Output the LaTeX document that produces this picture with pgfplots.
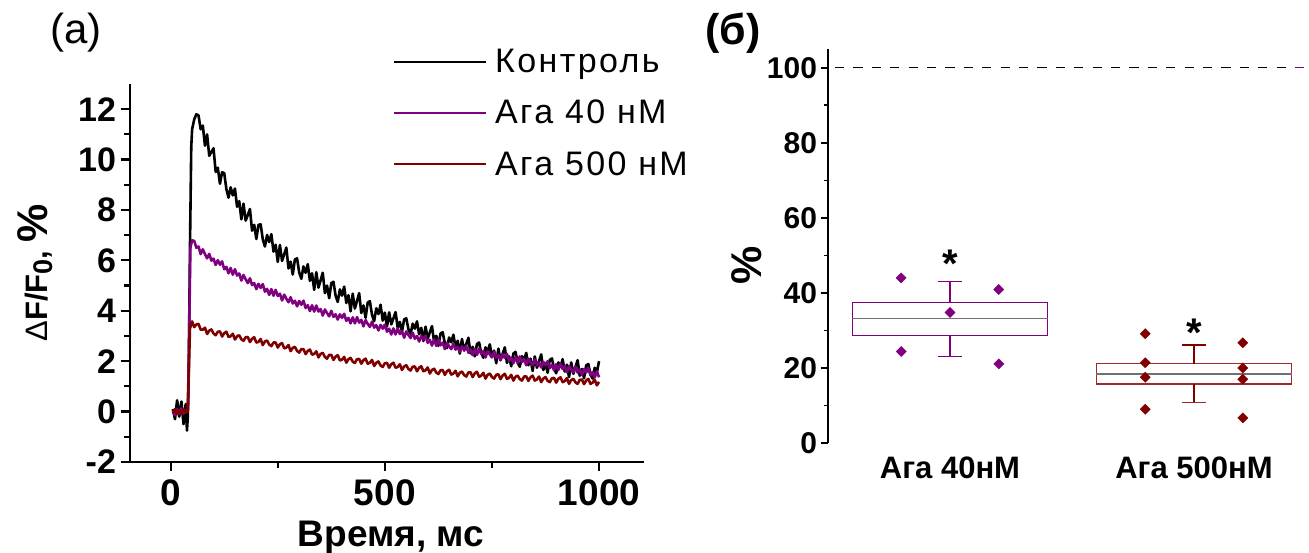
\documentclass[border=0pt]{standalone}
\usepackage{fontspec}
\setmainfont{Liberation Sans}
\usepackage{pgfplots}
\pgfplotsset{compat=1.18}
\definecolor{cpurple}{HTML}{800080}
\definecolor{cred}{HTML}{800000}
\definecolor{cbox}{HTML}{9E2A2A}
\definecolor{cmed}{HTML}{707070}
\begin{document}
\begin{tikzpicture}
\useasboundingbox (0pt,0pt) rectangle (1309pt,553pt);
% ---------------- panel (a) ----------------
\begin{axis}[
  at={(130pt,91pt)}, anchor=south west,
  width=514pt, height=378pt, scale only axis,
  xmin=-95, xmax=1105, ymin=-2, ymax=13,
  axis x line*=bottom, axis y line*=left,
  axis line style={line width=2.4pt, -},
  xtick={0,500,1000}, minor xtick={250,750},
  ytick={-2,0,2,4,6,8,10,12}, minor ytick={-1,1,3,5,7,9,11},
  tick align=outside, major tick length=9.5pt, minor tick length=6pt,
  every tick/.style={line width=2.2pt, black},
  /pgf/number format/assume math mode=true,
  /pgf/number format/1000 sep={},
  yticklabel style={font=\fontsize{34}{34}\selectfont\bfseries, xshift=-1pt},
  xticklabel style={font=\fontsize{37}{37}\selectfont\bfseries, yshift=-5pt},
  legend style={draw=none, fill=none, at={(rel axis cs:0.5117,1.095)}, anchor=north west,
    inner sep=0pt, row sep=24pt, font=\fontsize{34}{34}\selectfont\addfontfeatures{LetterSpace=7},
    nodes={inner sep=1pt}, /tikz/every odd column/.append style={column sep=7pt}},
  legend cell align=left,
  legend image code/.code={\draw[#1, line width=2pt] (0pt,0pt) -- (92pt,0pt);},
]
\addplot[black, line width=2.6pt, line join=round] coordinates {
(5,0.1) (10,-0.3) (15,0.45) (20,-0.2) (25,0.4) (30,-0.5) (35,0.3) (38,-0.75) (40,-0.2) (42,1.5)
(45,6.5) (48,10.5) (50,11.2) (55,11.6) (60,11.8) (65,11.75) (70,11.2) (75,11.35) (80,10.55) (85,11.0)
(90,10.15) (95,10.3) (100,10.45) (105,9.51) (110,9.68) (115,9.04) (120,9.5) (125,9.46) (130,8.83) (135,8.49)
(140,8.9) (145,8.58) (150,8.85) (155,8.13) (160,8.35) (165,7.63) (170,8.25) (175,7.58) (180,7.8) (185,8.04)
(190,7.18) (195,7.41) (200,6.85) (205,7.41) (210,7.43) (215,6.84) (220,6.55) (225,7.01) (230,6.73) (235,7.04)
(240,6.35) (245,6.62) (250,5.94) (255,6.61) (260,5.98) (265,6.24) (270,6.51) (275,5.68) (280,5.95) (285,5.44)
(290,6.04) (295,6.08) (300,5.53) (305,5.27) (310,5.76) (315,5.51) (320,5.85) (325,5.19) (330,5.49) (335,4.83)
(340,5.53) (345,4.92) (350,5.21) (355,5.51) (360,4.7) (365,5.0) (370,4.5) (375,5.1) (380,5.15) (385,4.6)
(390,4.35) (395,4.85) (400,4.6) (405,4.96) (410,4.31) (415,4.62) (420,3.98) (425,4.68) (430,4.09) (435,4.39)
(440,4.7) (445,3.91) (450,4.21) (455,3.72) (460,4.33) (465,4.38) (470,3.84) (475,3.59) (480,4.1) (485,3.87)
(490,4.24) (495,3.61) (500,3.93) (505,3.38) (510,3.94) (515,3.46) (520,3.7) (525,3.95) (530,3.32) (535,3.56)
(540,3.17) (545,3.66) (550,3.7) (555,3.27) (560,3.08) (565,3.49) (570,3.29) (575,3.58) (580,3.07) (585,3.32)
(590,2.8) (595,3.37) (600,2.9) (605,3.15) (610,3.39) (615,2.76) (620,3.01) (625,2.61) (630,3.1) (635,3.15)
(640,2.71) (645,2.52) (650,2.94) (655,2.75) (660,3.05) (665,2.55) (670,2.81) (675,2.3) (680,2.88) (685,2.42)
(690,2.68) (695,2.93) (700,2.31) (705,2.57) (710,2.19) (715,2.68) (720,2.74) (725,2.32) (730,2.14) (735,2.55)
(740,2.37) (745,2.67) (750,2.17) (755,2.42) (760,1.92) (765,2.5) (770,2.04) (775,2.29) (780,2.55) (785,1.93)
(790,2.19) (795,1.8) (800,2.3) (805,2.37) (810,1.95) (815,1.78) (820,2.2) (825,2.03) (830,2.33) (835,1.84)
(840,2.1) (845,1.61) (850,2.19) (855,1.74) (860,2.0) (865,2.27) (870,1.65) (875,1.92) (880,1.54) (885,2.05)
(890,2.11) (895,1.7) (900,1.52) (905,1.95) (910,1.78) (915,2.08) (920,1.59) (925,1.86) (930,1.37) (935,1.95)
(940,1.5) (945,1.77) (950,2.04) (955,1.42) (960,1.69) (965,1.32) (970,1.83) (975,1.89) (980,1.48) (985,1.31)
(990,1.74) (995,1.56) (1000,2.0)
};
\addlegendentry{Контроль}
\addplot[cpurple, line width=2.6pt, line join=round] coordinates {
(5,0.05) (10,-0.15) (15,0.1) (20,-0.1) (25,0.12) (30,-0.08) (35,0.05) (40,0.0) (43,3.0) (46,6.5)
(50,6.8) (55,6.77) (60,6.5) (65,6.55) (70,6.25) (75,6.44) (80,6.25) (85,6.08) (90,6.26) (95,5.99)
(100,6.07) (105,5.82) (110,6.01) (115,5.83) (120,5.96) (125,5.65) (130,5.74) (135,5.49) (140,5.7) (145,5.43)
(150,5.65) (155,5.4) (160,5.48) (165,5.2) (170,5.42) (175,5.25) (180,5.1) (185,5.29) (190,5.02) (195,5.1)
(200,4.86) (205,5.07) (210,4.91) (215,5.06) (220,4.76) (225,4.87) (230,4.63) (235,4.86) (240,4.6) (245,4.83)
(250,4.59) (255,4.68) (260,4.41) (265,4.64) (270,4.48) (275,4.34) (280,4.54) (285,4.29) (290,4.4) (295,4.18)
(300,4.39) (305,4.24) (310,4.4) (315,4.11) (320,4.22) (325,3.99) (330,4.22) (335,3.97) (340,4.21) (345,3.97)
(350,4.07) (355,3.81) (360,4.05) (365,3.91) (370,3.78) (375,4.0) (380,3.76) (385,3.86) (390,3.65) (395,3.86)
(400,3.72) (405,3.88) (410,3.6) (415,3.72) (420,3.5) (425,3.74) (430,3.5) (435,3.75) (440,3.53) (445,3.64)
(450,3.38) (455,3.63) (460,3.48) (465,3.36) (470,3.57) (475,3.33) (480,3.43) (485,3.22) (490,3.44) (495,3.29)
(500,3.45) (505,3.17) (510,3.29) (515,3.06) (520,3.3) (525,3.06) (530,3.3) (535,3.08) (540,3.19) (545,2.93)
(550,3.18) (555,3.04) (560,2.92) (565,3.13) (570,2.89) (575,3.0) (580,2.78) (585,3.0) (590,2.86) (595,3.01)
(600,2.73) (605,2.85) (610,2.62) (615,2.86) (620,2.61) (625,2.86) (630,2.63) (635,2.74) (640,2.48) (645,2.73)
(650,2.59) (655,2.48) (660,2.7) (665,2.46) (670,2.57) (675,2.37) (680,2.59) (685,2.45) (690,2.61) (695,2.34)
(700,2.46) (705,2.24) (710,2.49) (715,2.25) (720,2.5) (725,2.29) (730,2.4) (735,2.15) (740,2.4) (745,2.27)
(750,2.15) (755,2.37) (760,2.14) (765,2.25) (770,2.04) (775,2.27) (780,2.13) (785,2.29) (790,2.01) (795,2.14)
(800,1.92) (805,2.17) (810,1.93) (815,2.19) (820,1.97) (825,2.09) (830,1.84) (835,2.1) (840,1.96) (845,1.85)
(850,2.07) (855,1.84) (860,1.95) (865,1.75) (870,1.97) (875,1.84) (880,2.0) (885,1.73) (890,1.85) (895,1.64)
(900,1.88) (905,1.65) (910,1.9) (915,1.69) (920,1.8) (925,1.56) (930,1.81) (935,1.68) (940,1.56) (945,1.79)
(950,1.55) (955,1.67) (960,1.46) (965,1.69) (970,1.55) (975,1.72) (980,1.44) (985,1.57) (990,1.35) (995,1.6)
(1000,1.36)
};
\addlegendentry{Ага 40 нМ}
\addplot[cred, line width=2.6pt, line join=round] coordinates {
(5,-0.05) (10,0.1) (15,-0.1) (20,0.05) (25,-0.08) (30,0.1) (35,-0.05) (40,0.05) (43,2.0) (45,3.3)
(50,3.58) (55,3.35) (60,3.46) (65,3.48) (70,3.25) (75,3.25) (80,3.33) (85,3.08) (90,3.21) (95,3.26)
(100,3.1) (105,3.03) (110,3.17) (115,3.18) (120,2.98) (125,3.11) (130,3.17) (135,2.96) (140,2.99) (145,3.09)
(150,2.86) (155,2.99) (160,3.03) (165,2.87) (170,2.81) (175,2.95) (180,2.96) (185,2.76) (190,2.89) (195,2.95)
(200,2.74) (205,2.77) (210,2.88) (215,2.64) (220,2.78) (225,2.82) (230,2.66) (235,2.6) (240,2.74) (245,2.74)
(250,2.54) (255,2.67) (260,2.72) (265,2.51) (270,2.54) (275,2.64) (280,2.4) (285,2.53) (290,2.57) (295,2.41)
(300,2.34) (305,2.48) (310,2.48) (315,2.28) (320,2.41) (325,2.46) (330,2.26) (335,2.29) (340,2.39) (345,2.15)
(350,2.29) (355,2.33) (360,2.17) (365,2.1) (370,2.25) (375,2.25) (380,2.05) (385,2.18) (390,2.24) (395,2.03)
(400,2.06) (405,2.17) (410,1.94) (415,2.08) (420,2.13) (425,1.98) (430,1.93) (435,2.08) (440,2.09) (445,1.9)
(450,2.04) (455,2.1) (460,1.9) (465,1.94) (470,2.05) (475,1.81) (480,1.94) (485,1.99) (490,1.83) (495,1.77)
(500,1.92) (505,1.93) (510,1.74) (515,1.88) (520,1.94) (525,1.74) (530,1.77) (535,1.88) (540,1.65) (545,1.79)
(550,1.84) (555,1.69) (560,1.63) (565,1.78) (570,1.79) (575,1.6) (580,1.74) (585,1.8) (590,1.6) (595,1.64)
(600,1.75) (605,1.51) (610,1.65) (615,1.7) (620,1.55) (625,1.49) (630,1.64) (635,1.65) (640,1.46) (645,1.6)
(650,1.66) (655,1.47) (660,1.51) (665,1.62) (670,1.4) (675,1.54) (680,1.59) (685,1.45) (690,1.39) (695,1.55)
(700,1.56) (705,1.37) (710,1.52) (715,1.58) (720,1.38) (725,1.43) (730,1.54) (735,1.31) (740,1.46) (745,1.51)
(750,1.37) (755,1.31) (760,1.46) (765,1.48) (770,1.29) (775,1.43) (780,1.5) (785,1.3) (790,1.34) (795,1.46)
(800,1.23) (805,1.38) (810,1.43) (815,1.29) (820,1.23) (825,1.39) (830,1.4) (835,1.22) (840,1.36) (845,1.43)
(850,1.23) (855,1.28) (860,1.39) (865,1.17) (870,1.31) (875,1.37) (880,1.22) (885,1.17) (890,1.32) (895,1.34)
(900,1.15) (905,1.3) (910,1.36) (915,1.17) (920,1.21) (925,1.33) (930,1.1) (935,1.25) (940,1.3) (945,1.16)
(950,1.1) (955,1.26) (960,1.27) (965,1.09) (970,1.23) (975,1.3) (980,1.1) (985,1.15) (990,1.26) (995,1.04)
(1000,1.18)
};
\addlegendentry{Ага 500 нМ}
\end{axis}
\node[font=\fontsize{42}{42}\selectfont] at (76pt,520pt) {(a)};
\node[font=\fontsize{37}{37}\selectfont\bfseries, anchor=base] at (391pt,6pt) {Время, мс};
\node[rotate=90, anchor=base west, font=\fontsize{31}{31}\selectfont\bfseries] at (47pt,208pt)
  {{\mdseries Δ}F/F\raisebox{-5pt}{\fontsize{27}{27}\selectfont 0}, {\fontsize{43}{43}\selectfont\%}};
% ---------------- panel (b) ----------------
\begin{axis}[
  at={(828pt,110pt)}, anchor=south west,
  width=478pt, height=394pt, scale only axis,
  xmin=0.5, xmax=2.459, ymin=0, ymax=105,
  axis x line*=bottom, axis y line*=left,
  axis line style={line width=1.8pt, -},
  x axis line style={draw=none},
  xtick={1,2}, xticklabels={Ага 40нМ, Ага 500нМ},
  major x tick style={draw=none},
  ytick={0,20,40,60,80,100}, minor ytick={10,30,50,70,90},
  tick align=outside, major tick length=7.5pt, minor tick length=4.5pt,
  every tick/.style={line width=1.6pt, black},
  /pgf/number format/assume math mode=true,
  yticklabel style={font=\fontsize{30}{30}\selectfont\bfseries},
  xticklabel style={font=\fontsize{31}{31}\selectfont\bfseries, yshift=-3pt},
  clip=false,
]
\addplot[black, line width=1.3pt, dash pattern=on 9.2pt off 9.2pt, dash phase=11.4pt] coordinates {(0.5,100) (2.395,100)};
\addplot[cpurple, line width=1.3pt] coordinates {(2.414,100) (2.451,100)};
% box 1
\addplot[cpurple, line width=1.3pt, line join=miter] coordinates {(0.6,28.7) (1.4,28.7) (1.4,37.5) (0.6,37.5) (0.6,28.7)};
\addplot[cmed, line width=1.3pt] coordinates {(0.6,33.1) (1.4,33.1)};
\addplot[cpurple, line width=1.3pt] coordinates {(1,37.5) (1,43.0)};
\addplot[cpurple, line width=1.3pt] coordinates {(0.95,43.0) (1.05,43.0)};
\addplot[cpurple, line width=1.3pt] coordinates {(1,28.7) (1,23.1)};
\addplot[cpurple, line width=1.3pt] coordinates {(0.95,23.1) (1.05,23.1)};
% box 2
\addplot[cbox, line width=1.3pt, line join=miter] coordinates {(1.6,15.7) (2.4,15.7) (2.4,21.1) (1.6,21.1) (1.6,15.7)};
\addplot[cmed, line width=1.3pt] coordinates {(1.6,18.4) (2.4,18.4)};
\addplot[cred, line width=1.3pt] coordinates {(2,21.1) (2,26.1)};
\addplot[cred, line width=1.3pt] coordinates {(1.95,26.1) (2.05,26.1)};
\addplot[cred, line width=1.3pt] coordinates {(2,15.7) (2,10.7)};
\addplot[cbox, line width=1.3pt] coordinates {(1.95,10.7) (2.05,10.7)};
\addplot[only marks, mark=square*, mark size=3.6pt, mark options={rotate=45, draw=cpurple, fill=cpurple}]
  coordinates {(0.8,44.0) (0.8,24.4) (1,34.8) (1.2,40.9) (1.2,21.1)};
\addplot[only marks, mark=square*, mark size=3.6pt, mark options={rotate=45, draw=cred, fill=cred}]
  coordinates {(1.8,29.1) (1.8,21.4) (1.8,17.5) (1.8,9.0) (2.2,26.7) (2.2,20.0) (2.2,17.0) (2.2,6.7)};
\node[font=\fontsize{40}{40}\selectfont\bfseries, anchor=base] at (axis cs:1,44.0) {*};
\node[font=\fontsize{40}{40}\selectfont\bfseries, anchor=base] at (axis cs:2,25.6) {*};
\end{axis}
\node[font=\fontsize{43}{43}\selectfont\bfseries] at (733pt,520pt) {(б)};
\node[rotate=90, font=\fontsize{43}{43}\selectfont\bfseries] at (747pt,288pt) {\%};
\end{tikzpicture}
\end{document}
